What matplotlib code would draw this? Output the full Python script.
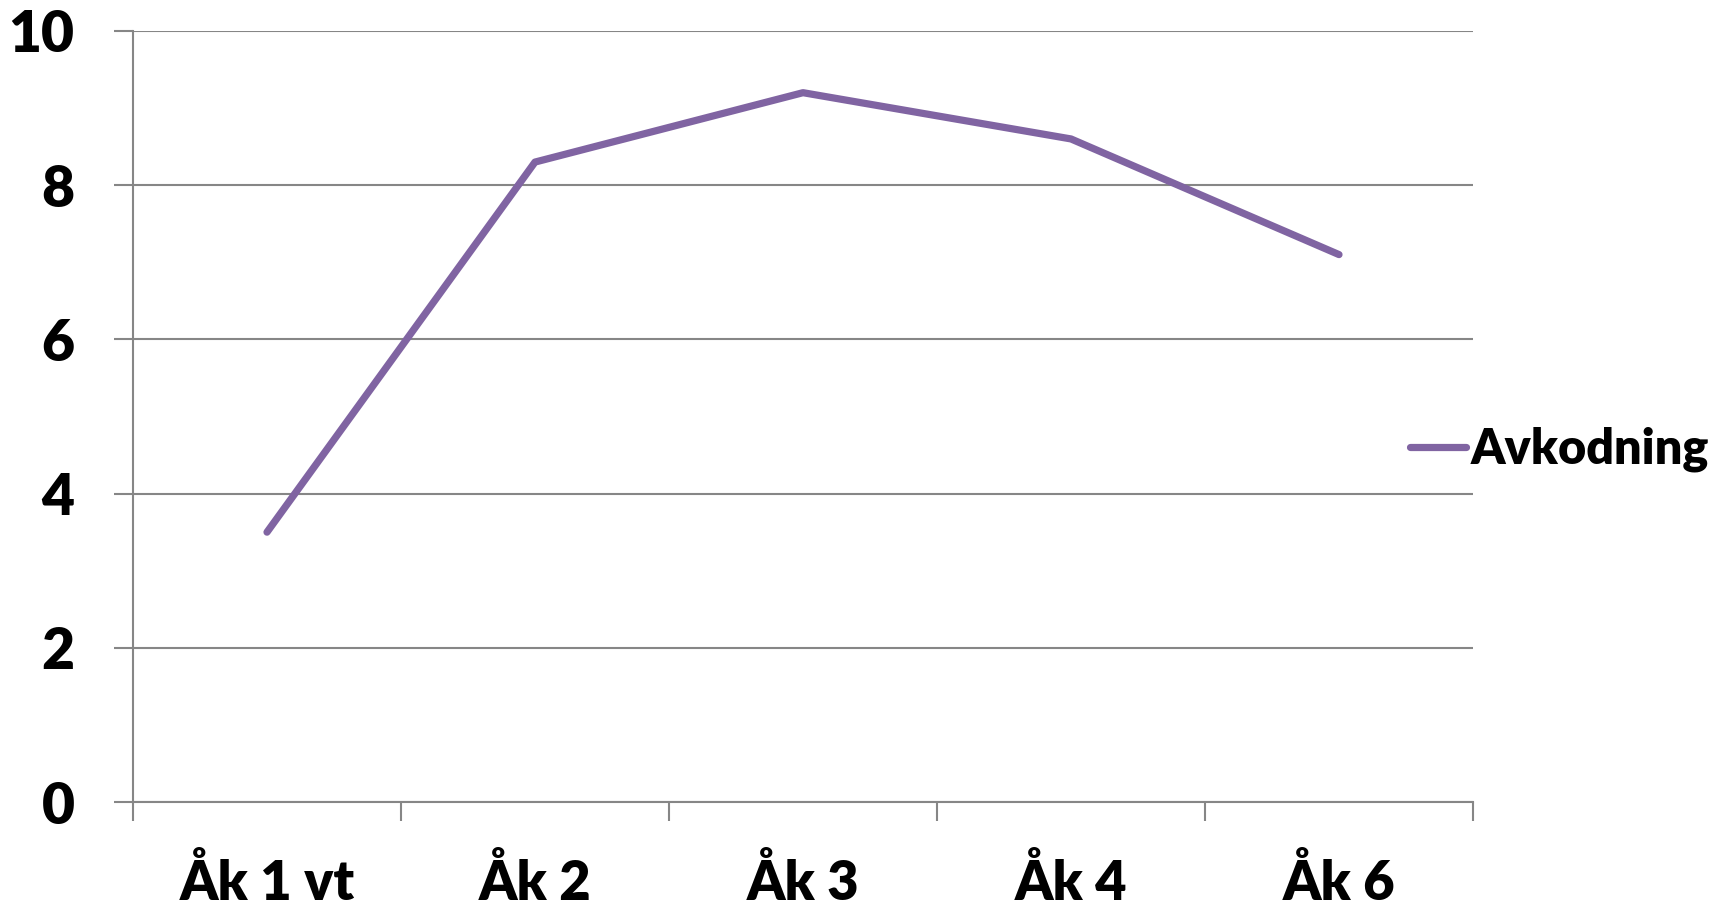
import numpy as np
import matplotlib.pyplot as plt

categories = ["Åk 1 vt", "Åk 2", "Åk 3", "Åk 4", "Åk 6"]
avkodning = [3.5, 8.3, 9.2, 8.6, 7.1]

plt.rcParams['font.family'] = ['Lato', 'DejaVu Sans']

grey = '#868686'
purple = '#8064A2'
wt = 'heavy'

fig = plt.figure(figsize=(17.27, 9.09), dpi=100)
ax = fig.add_axes([133 / 1727, 107 / 909, 1340 / 1727, 771 / 909])

x = np.arange(len(categories))
ax.plot(x, avkodning, color=purple, lw=5.2, solid_capstyle='round',
        solid_joinstyle='round', label="Avkodning")

ax.set_xlim(-0.5, len(categories) - 0.5)
ax.set_ylim(0, 10)
ax.set_yticks(np.arange(0, 11, 2))
ax.yaxis.grid(True, color=grey, lw=1.5)
ax.set_axisbelow(True)

# category labels in the middle, tick marks on the boundaries
ax.set_xticks(x)
ax.set_xticklabels(categories, fontsize=39, fontweight=wt)
ax.set_xticks(np.arange(-0.5, len(categories)), minor=True)
ax.tick_params(axis='x', which='major', length=0, pad=39)
ax.tick_params(axis='x', which='minor', length=14, width=1.5, color=grey, direction='out')
ax.tick_params(axis='y', length=14, width=1.5, color=grey, direction='out',
               labelsize=41, pad=28)
for lab in ax.get_yticklabels():
    lab.set_fontweight(wt)

for s in ['top', 'right']:
    ax.spines[s].set_visible(False)
for s in ['left', 'bottom']:
    ax.spines[s].set_color(grey)
    ax.spines[s].set_linewidth(1.5)

ax.legend(loc='center left', bbox_to_anchor=(0.953, 0.457), frameon=False,
          borderaxespad=0, borderpad=0, handlelength=1.15, handletextpad=0.1,
          prop={'size': 35, 'weight': wt})

fig.savefig("out.png", dpi=100)
